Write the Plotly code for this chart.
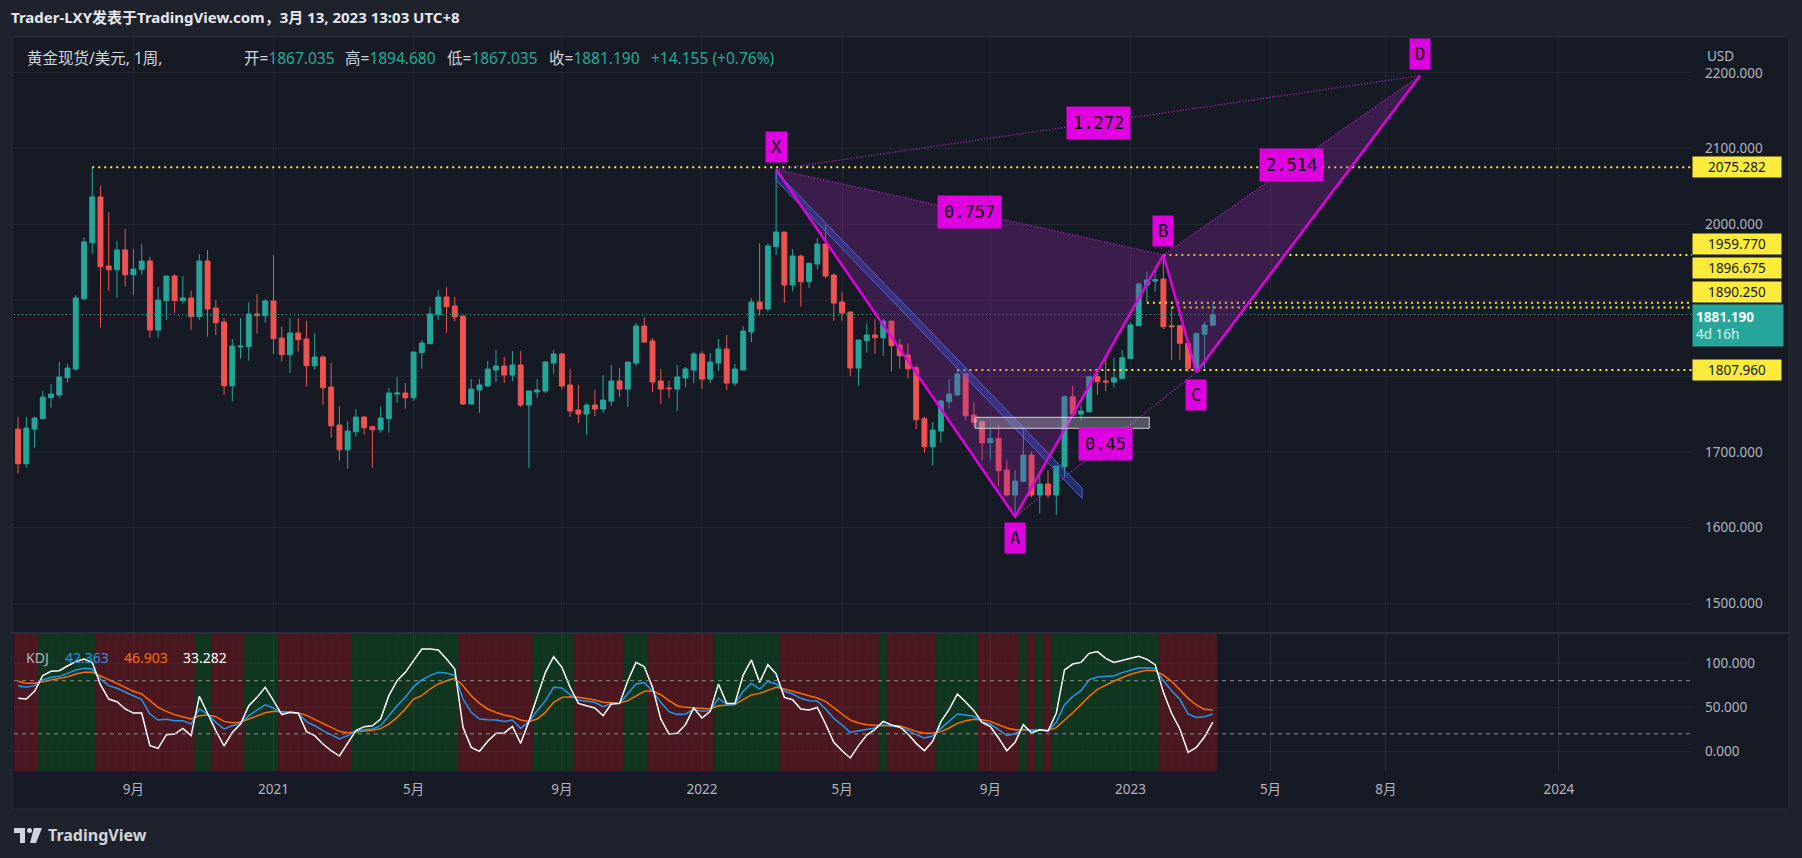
import pandas as pd
import plotly.graph_objects as go

# ---------------- data ----------------
bar_dates = pd.date_range("2020-06-01", periods=146, freq="7D")

opens = [1730.0, 1684.3, 1730.0, 1743.7, 1771.4, 1774.9, 1797.8, 1809.2, 1902.0, 1976.0,
         2036.2, 1945.1, 1940.2, 1966.2, 1933.6, 1940.2, 1951.7, 1860.6, 1899.4, 1931.9,
         1899.4, 1902.9, 1878.2, 1951.7, 1889.7, 1871.2, 1787.2, 1838.2, 1838.6, 1881.8,
         1879.6, 1898.9, 1850.1, 1828.1, 1856.7, 1848.8, 1813.6, 1825.0, 1785.4, 1735.3,
         1702.8, 1726.5, 1745.8, 1733.1, 1729.2, 1743.7, 1776.2, 1777.5, 1771.4, 1830.7,
         1842.6, 1880.9, 1904.2, 1892.3, 1879.1, 1763.0, 1781.5, 1786.8, 1807.9, 1813.2,
         1801.3, 1814.5, 1761.7, 1778.9, 1780.2, 1817.1, 1829.0, 1788.1, 1755.1, 1749.8,
         1761.7, 1756.4, 1767.0, 1793.4, 1782.8, 1817.1, 1865.9, 1846.2, 1793.4, 1784.1,
         1782.8, 1797.4, 1807.9, 1829.0, 1796.0, 1817.1, 1835.6, 1790.7, 1807.9, 1858.0,
         1897.6, 1888.4, 1970.6, 1989.9, 1920.0, 1958.3, 1924.4, 1947.7, 1974.1, 1933.2,
         1897.6, 1884.4, 1810.5, 1846.6, 1854.1, 1850.5, 1872.5, 1840.9, 1827.7, 1811.0,
         1743.7, 1706.7, 1727.4, 1766.1, 1774.9, 1802.6, 1748.5, 1739.7, 1712.0, 1717.7,
         1675.9, 1643.0, 1661.0, 1695.7, 1643.0, 1657.5, 1643.0, 1680.3, 1772.7, 1749.8,
         1753.0, 1799.1, 1793.5, 1792.0, 1796.9, 1823.2, 1866.4, 1920.0, 1925.3, 1927.9,
         1866.3, 1866.3, 1843.1, 1810.1, 1855.0, 1867.035]
highs = [1746.3, 1746.3, 1746.3, 1780.2, 1789.4, 1818.4, 1815.8, 1906.8, 1982.9, 2075.3,
         2050.6, 2016.3, 1978.1, 1993.9, 1967.5, 1974.1, 1957.0, 1917.8, 1931.9, 1934.5,
         1931.9, 1912.1, 1960.9, 1966.2, 1900.2, 1876.5, 1848.8, 1876.5, 1897.6, 1908.2,
         1901.6, 1959.6, 1865.1, 1876.5, 1876.5, 1872.5, 1856.7, 1827.6, 1817.1, 1760.4,
         1740.6, 1756.4, 1747.2, 1734.4, 1759.1, 1784.1, 1798.6, 1790.7, 1831.6, 1847.5,
         1891.0, 1913.4, 1917.4, 1904.2, 1879.1, 1796.0, 1796.0, 1819.8, 1834.3, 1825.0,
         1832.9, 1832.9, 1780.2, 1796.0, 1819.8, 1834.3, 1830.3, 1809.2, 1788.1, 1764.3,
         1781.5, 1801.3, 1814.5, 1810.5, 1818.4, 1869.9, 1877.8, 1850.1, 1809.2, 1793.4,
         1814.5, 1811.9, 1831.6, 1832.9, 1830.3, 1848.8, 1854.1, 1815.8, 1865.9, 1902.9,
         1975.0, 1975.0, 2072.6, 1990.5, 1967.5, 1960.0, 1949.5, 1982.0, 1999.2, 1935.4,
         1910.8, 1884.4, 1847.5, 1869.5, 1875.2, 1875.2, 1872.5, 1848.8, 1842.6, 1814.5,
         1746.3, 1739.4, 1768.3, 1796.0, 1809.2, 1802.6, 1765.7, 1739.7, 1730.9, 1735.3,
         1689.1, 1675.9, 1730.9, 1700.1, 1669.4, 1676.0, 1681.2, 1774.0, 1786.8, 1761.3,
         1800.5, 1810.0, 1824.1, 1824.0, 1834.3, 1870.8, 1923.1, 1937.6, 1938.9, 1959.8,
         1890.5, 1866.3, 1847.5, 1856.3, 1871.6, 1894.680]
lows = [1671.5, 1679.0, 1705.4, 1743.7, 1758.2, 1771.4, 1791.2, 1807.0, 1900.2, 1961.4,
        1863.7, 1912.5, 1903.3, 1917.8, 1906.8, 1933.6, 1850.5, 1850.5, 1873.9, 1883.1,
        1895.4, 1860.6, 1873.9, 1851.9, 1854.1, 1774.9, 1766.1, 1822.8, 1820.2, 1855.8,
        1870.3, 1829.0, 1818.9, 1804.4, 1832.1, 1785.9, 1808.3, 1762.1, 1718.6, 1688.3,
        1677.7, 1720.0, 1722.6, 1679.0, 1725.2, 1725.2, 1764.8, 1756.8, 1767.4, 1809.6,
        1842.6, 1873.9, 1857.1, 1871.7, 1761.7, 1763.0, 1751.2, 1785.5, 1792.1, 1790.7,
        1793.4, 1759.1, 1678.6, 1771.0, 1777.5, 1802.6, 1782.8, 1745.9, 1737.9, 1722.1,
        1747.2, 1751.2, 1760.4, 1772.3, 1759.1, 1813.2, 1843.5, 1778.9, 1763.0, 1771.0,
        1753.8, 1785.5, 1790.7, 1782.8, 1790.7, 1806.6, 1781.5, 1786.8, 1807.9, 1844.8,
        1879.6, 1885.0, 1959.6, 1896.7, 1911.7, 1891.4, 1916.1, 1940.7, 1928.8, 1873.0,
        1873.0, 1799.9, 1786.8, 1830.8, 1829.0, 1826.4, 1805.7, 1809.6, 1796.9, 1730.0,
        1698.8, 1681.7, 1712.0, 1757.3, 1773.6, 1741.9, 1733.1, 1689.1, 1689.1, 1654.9,
        1640.8, 1614.4, 1660.5, 1640.0, 1618.8, 1638.6, 1616.5, 1667.1, 1748.5, 1741.9,
        1752.0, 1775.0, 1780.0, 1785.0, 1796.9, 1823.2, 1866.0, 1898.0, 1911.0, 1862.0,
        1821.1, 1821.1, 1806.0, 1805.0, 1810.0, 1867.035]
closes = [1684.3, 1731.3, 1744.5, 1772.2, 1776.2, 1798.6, 1810.5, 1902.9, 1976.8, 2036.2,
          1944.2, 1940.2, 1966.2, 1933.6, 1941.1, 1951.7, 1860.6, 1900.2, 1931.9, 1899.4,
          1902.9, 1878.2, 1951.7, 1888.4, 1870.3, 1787.2, 1839.5, 1839.5, 1881.8, 1879.6,
          1898.9, 1849.2, 1828.1, 1856.7, 1847.9, 1813.6, 1825.0, 1784.6, 1734.4, 1702.8,
          1727.4, 1745.8, 1731.8, 1729.2, 1744.5, 1777.5, 1777.5, 1771.4, 1831.6, 1843.5,
          1881.8, 1904.2, 1891.4, 1877.8, 1763.0, 1782.8, 1788.1, 1809.2, 1813.2, 1801.3,
          1814.5, 1761.7, 1780.2, 1781.5, 1818.4, 1829.0, 1786.8, 1753.8, 1749.8, 1761.7,
          1756.4, 1768.3, 1793.4, 1782.8, 1818.4, 1865.9, 1844.8, 1792.1, 1782.8, 1783.3,
          1798.7, 1809.2, 1829.0, 1796.0, 1818.4, 1835.6, 1790.7, 1809.2, 1859.3, 1897.6,
          1888.4, 1971.5, 1989.9, 1920.0, 1958.3, 1924.4, 1948.6, 1974.1, 1931.9, 1896.3,
          1883.1, 1810.5, 1847.5, 1854.1, 1850.5, 1872.5, 1840.0, 1826.8, 1809.6, 1742.4,
          1706.7, 1728.7, 1767.0, 1776.2, 1802.6, 1747.6, 1738.8, 1712.0, 1717.7, 1675.0,
          1643.0, 1661.4, 1695.7, 1643.0, 1657.5, 1643.0, 1681.2, 1772.7, 1749.8, 1753.8,
          1799.1, 1792.5, 1792.0, 1797.5, 1824.1, 1867.3, 1921.3, 1926.6, 1927.1, 1865.0,
          1865.0, 1843.1, 1810.1, 1856.3, 1867.3, 1881.190]

k_vals = [74.4, 72.5, 74.4, 80.8, 83.8, 84.9, 88.3, 92.1, 93.9, 93.2,
          81.9, 74.4, 71.4, 66.9, 62.4, 58.6, 42.4, 35.6, 36.4, 34.9,
          34.9, 31.1, 48.1, 42.4, 33.0, 25.5, 29.2, 31.9, 40.5, 46.9,
          52.9, 49.2, 43.2, 44.3, 43.2, 33.8, 29.2, 23.6, 18.7, 14.2,
          18.0, 23.6, 24.7, 25.5, 29.2, 40.5, 51.8, 61.2, 73.3, 80.8,
          85.7, 89.4, 88.7, 85.7, 59.3, 44.3, 36.8, 36.0, 35.6, 34.1,
          35.6, 26.2, 33.8, 46.2, 57.5, 72.5, 71.8, 64.2, 58.2, 56.7,
          55.6, 50.7, 54.4, 54.4, 65.0, 76.3, 77.8, 68.4, 55.6, 45.1,
          42.0, 42.4, 47.7, 45.4, 46.2, 60.1, 53.7, 53.7, 68.0, 77.0,
          70.6, 79.3, 76.3, 68.0, 65.0, 60.1, 57.5, 57.0, 48.1, 37.5,
          30.0, 21.7, 23.6, 25.5, 26.6, 30.4, 29.0, 27.4, 24.0, 19.1,
          15.3, 17.6, 26.2, 34.1, 42.4, 41.3, 39.8, 33.4, 31.1, 24.7,
          18.3, 20.2, 25.1, 23.6, 24.8, 23.2, 33.0, 53.0, 62.0, 68.7,
          81.2, 84.2, 84.9, 85.7, 89.1, 92.1, 94.3, 94.7, 93.6, 80.0,
          68.7, 59.0, 42.4, 38.6, 39.4, 42.363]
d_vals = [79.3, 77.0, 77.0, 78.9, 80.8, 82.3, 84.5, 87.6, 89.4, 89.4,
          85.7, 81.2, 77.0, 72.5, 68.0, 65.0, 57.5, 49.9, 45.4, 41.7,
          39.4, 36.8, 40.5, 41.3, 39.4, 34.1, 32.6, 33.0, 36.8, 40.5,
          43.9, 45.4, 44.7, 44.7, 43.9, 40.9, 36.4, 31.9, 27.4, 22.8,
          21.3, 22.1, 23.2, 24.0, 25.9, 31.1, 38.6, 48.1, 59.3, 63.1,
          70.6, 76.3, 80.0, 82.7, 74.4, 63.1, 54.4, 48.1, 44.3, 41.3,
          39.4, 35.6, 34.1, 36.8, 44.3, 55.6, 61.2, 62.0, 61.2, 60.1,
          58.2, 55.6, 54.8, 54.8, 57.5, 63.1, 68.0, 68.7, 64.2, 57.5,
          51.8, 49.9, 49.2, 48.1, 48.1, 51.8, 52.6, 53.0, 58.6, 63.9,
          65.7, 69.5, 72.5, 70.6, 68.0, 65.0, 62.4, 60.5, 56.7, 49.2,
          42.4, 35.6, 32.3, 30.4, 29.6, 29.2, 29.2, 28.9, 26.2, 22.8,
          20.6, 20.6, 22.5, 26.6, 31.9, 34.9, 36.4, 36.0, 34.1, 30.4,
          26.6, 24.7, 24.7, 24.4, 24.4, 24.0, 27.0, 34.9, 43.9, 53.0,
          62.4, 70.2, 75.1, 79.7, 83.4, 87.2, 89.8, 91.7, 91.3, 86.4,
          79.3, 69.9, 60.1, 52.6, 47.7, 46.903]
j_vals = [60.1, 59.3, 68.0, 85.7, 90.6, 91.3, 96.6, 101.5, 104.5, 100.7,
          75.5, 59.3, 56.3, 48.1, 43.5, 43.5, 6.7, 3.7, 19.1, 19.8,
          26.2, 18.0, 62.4, 42.4, 23.6, 6.3, 21.7, 31.1, 51.8, 61.2,
          72.5, 57.5, 41.7, 44.3, 43.2, 22.5, 18.0, 8.6, 1.0, -5.0,
          8.6, 23.6, 28.1, 29.2, 36.8, 63.1, 80.0, 89.4, 102.6, 115.8,
          115.8, 114.6, 104.5, 93.2, 27.4, 4.8, 0.3, 11.6, 20.6, 21.0,
          28.5, 9.3, 34.1, 61.2, 89.4, 107.1, 95.1, 72.5, 54.4, 51.8,
          49.2, 40.5, 53.7, 54.4, 80.0, 100.7, 95.8, 72.5, 36.8, 19.8,
          20.6, 30.4, 49.2, 37.9, 45.4, 76.3, 54.4, 54.4, 86.4, 103.4,
          78.1, 98.1, 87.6, 61.2, 58.6, 48.1, 46.9, 49.8, 31.1, 10.4,
          1.0, -7.2, 6.7, 18.7, 25.1, 34.1, 30.0, 27.7, 19.8, 9.3,
          1.0, 11.6, 33.8, 47.7, 65.0, 56.0, 46.2, 33.0, 28.1, 15.3,
          1.0, 10.4, 30.4, 21.0, 24.7, 23.2, 43.2, 92.1, 98.8, 100.7,
          110.9, 112.8, 105.2, 100.7, 103.0, 105.6, 107.5, 104.1, 98.1, 66.9,
          43.2, 25.5, -0.9, 4.8, 16.8, 33.282]

# harmonic pattern points
pattern_labels = ["X", "A", "B", "C", "D"]
pattern_dates = ["2022-03-07", "2022-09-26", "2023-01-30", "2023-02-27", "2023-09-05"]
pattern_prices = [2072.6, 1614.4, 1959.77, 1805.0, 2196.2]
ratio_texts = ["0.757", "0.45", "1.272", "2.514"]
ratio_pairs = [(0, 2), (1, 3), (0, 4), (2, 4)]

# blue channel drawn from X
channel_dates = ["2022-03-07", "2022-11-22"]
channel_top = [2069.5, 1651.8]
channel_bot = [2058.6, 1638.6]

# gray box
box_dates = ["2022-08-23", "2023-01-18"]
box_prices = [1731.0, 1745.5]

# yellow horizontal levels
level_prices = [2075.282, 1959.770, 1896.675, 1890.250, 1807.960]
level_start = ["2020-08-03", "2023-01-30", "2023-01-16", "2023-02-06", "2022-08-08"]
level_label_shift = [0, 11, 35, 16, 0]

last_price = 1881.190

tick_dates = ["2020-09-07", "2021-01-04", "2021-05-03", "2021-09-06", "2022-01-03",
              "2022-05-02", "2022-09-05", "2023-01-02", "2023-05-01", "2023-08-07", "2024-01-01"]
tick_text = ["9月", "2021", "5月", "9月", "2022", "5月", "9月", "2023", "5月", "8月", "2024"]

price_ticks = [1500, 1600, 1700, 1800, 1900, 2000, 2100, 2200]
price_tick_text = ["1500.000", "1600.000", "1700.000", "", "", "2000.000", "2100.000", "2200.000"]
kdj_ticks = [0, 50, 100]

# ---------------- styling / geometry ----------------
W, H = 1802, 858
ML, MR, MT, MB = 14, 110, 37, 87
PW, PH = W - ML - MR, H - MT - MB

def X(p):
    return (p - ML) / PW

def Y(p):
    return (H - MB - p) / PH

BG = "#161a25"
OUTER = "#1e222d"
GRID = "#232733"
UP, DN = "#26a69a", "#ef5350"
MAG = "#df00df"
TXT = "#b2b5be"
FONT = "Noto Sans, Noto Sans CJK SC, sans-serif"

PRICE_RANGE = [1462.3, 2247.2]
KDJ_RANGE = [-21.9, 132.7]
anchor = pd.Timestamp("2021-01-04")
ppd = 1.1771
x_left = anchor - pd.Timedelta(days=(273.5 - ML) / ppd)
x_right = anchor + pd.Timedelta(days=(W - MR - 273.5) / ppd)

fig = go.Figure()

# KDJ background bands
band_cols = ["#11361f" if k > d else "#4b1820" for k, d in zip(k_vals, d_vals)]
fig.add_trace(go.Bar(x=bar_dates, y=[KDJ_RANGE[1] - KDJ_RANGE[0]] * len(bar_dates),
                     base=KDJ_RANGE[0], width=7.25 * 86400000,
                     marker=dict(color=band_cols, line=dict(color=band_cols, width=0.6)),
                     xaxis="x", yaxis="y2", hoverinfo="skip"))

# candles
fig.add_trace(go.Candlestick(x=bar_dates, open=opens, high=highs, low=lows, close=closes,
                             increasing=dict(line=dict(color=UP, width=1), fillcolor=UP),
                             decreasing=dict(line=dict(color=DN, width=1), fillcolor=DN),
                             whiskerwidth=0, hoverinfo="skip", xaxis="x", yaxis="y"))

# current price dotted line
fig.add_trace(go.Scatter(x=[x_left, x_right], y=[last_price, last_price], mode="lines",
                         line=dict(color=UP, width=1, dash="1px,3px"), hoverinfo="skip"))

# yellow levels
for p, s in zip(level_prices, level_start):
    fig.add_trace(go.Scatter(x=[s, x_right], y=[p, p], mode="lines",
                             line=dict(color="#ffeb3b", width=2, dash="2px,4px"), hoverinfo="skip"))

# pattern fills
pd_ = pattern_dates
pp = pattern_prices
fig.add_trace(go.Scatter(x=[pd_[0], pd_[1], pd_[2], pd_[0]], y=[pp[0], pp[1], pp[2], pp[0]],
                         fill="toself", fillcolor="rgba(156,39,176,0.28)", mode="lines",
                         line=dict(width=0), hoverinfo="skip"))
fig.add_trace(go.Scatter(x=[pd_[2], pd_[3], pd_[4], pd_[2]], y=[pp[2], pp[3], pp[4], pp[2]],
                         fill="toself", fillcolor="rgba(156,39,176,0.28)", mode="lines",
                         line=dict(width=0), hoverinfo="skip"))

# blue channel
fig.add_trace(go.Scatter(x=[channel_dates[0], channel_dates[1], channel_dates[1], channel_dates[0], channel_dates[0]],
                         y=[channel_top[0], channel_top[1], channel_bot[1], channel_bot[0], channel_top[0]],
                         fill="toself", fillcolor="rgba(70,90,220,0.35)", mode="lines",
                         line=dict(color="rgba(80,110,235,0.85)", width=1), hoverinfo="skip"))

# dotted ratio lines
for a, b in ratio_pairs:
    fig.add_trace(go.Scatter(x=[pd_[a], pd_[b]], y=[pp[a], pp[b]], mode="lines",
                             line=dict(color="rgba(185,40,200,0.95)", width=1.5, dash="1px,2px"),
                             hoverinfo="skip"))

# solid pattern legs
fig.add_trace(go.Scatter(x=pd_, y=pp, mode="lines", line=dict(color=MAG, width=2.5),
                         hoverinfo="skip"))

# KDJ lines
fig.add_trace(go.Scatter(x=bar_dates, y=d_vals, mode="lines", line=dict(color="#ff6d00", width=1.5),
                         xaxis="x", yaxis="y2", hoverinfo="skip"))
fig.add_trace(go.Scatter(x=bar_dates, y=k_vals, mode="lines", line=dict(color="#2196f3", width=1.5),
                         xaxis="x", yaxis="y2", hoverinfo="skip"))
fig.add_trace(go.Scatter(x=bar_dates, y=j_vals, mode="lines", line=dict(color="#ffffff", width=1.5),
                         xaxis="x", yaxis="y2", hoverinfo="skip"))

shapes = []
# frame
shapes.append(dict(type="rect", xref="paper", yref="paper", x0=X(12), x1=X(1789), y0=Y(809), y1=Y(37),
                   fillcolor=BG, line=dict(color="#2a2e39", width=1), layer="below"))
# gray box
shapes.append(dict(type="rect", xref="x", yref="y", x0=box_dates[0], x1=box_dates[1],
                   y0=box_prices[0], y1=box_prices[1], fillcolor="rgba(190,195,205,0.35)",
                   line=dict(color="rgba(225,225,230,0.9)", width=1), layer="above"))
# KDJ grid over the bands
for v in kdj_ticks:
    shapes.append(dict(type="line", xref="paper", yref="y2", x0=0, x1=1, y0=v, y1=v,
                       line=dict(color="rgba(255,255,255,0.06)", width=1), layer="above"))
for v in [20, 80]:
    shapes.append(dict(type="line", xref="paper", yref="y2", x0=0, x1=1, y0=v, y1=v,
                       line=dict(color="#8a8d96", width=1, dash="4px,4px"), layer="above"))
for t in tick_dates:
    shapes.append(dict(type="line", xref="x", yref="y2", x0=t, x1=t, y0=KDJ_RANGE[0], y1=KDJ_RANGE[1],
                       line=dict(color="rgba(255,255,255,0.05)", width=1), layer="above"))
# pane separator
shapes.append(dict(type="line", xref="paper", yref="paper", x0=X(12), x1=X(1789), y0=Y(633), y1=Y(633),
                   line=dict(color="#2a2e39", width=2), layer="above"))
# TradingView logo
def path(pts):
    return "M " + " L ".join(f"{X(a)},{Y(b)}" for a, b in pts) + " Z"
shapes.append(dict(type="path", xref="paper", yref="paper",
                   path=path([(14, 828), (25, 828), (25, 843), (20, 843), (20, 833), (14, 833)]),
                   fillcolor="#d1d4dc", line=dict(width=0)))
shapes.append(dict(type="circle", xref="paper", yref="paper", x0=X(27), x1=X(32), y0=Y(833), y1=Y(828),
                   fillcolor="#d1d4dc", line=dict(width=0)))
shapes.append(dict(type="path", xref="paper", yref="paper",
                   path=path([(34, 828), (42, 828), (36, 843), (30, 843)]),
                   fillcolor="#d1d4dc", line=dict(width=0)))

ann = []
def text(xp, yp, t, size=14, color="#d1d4dc", anchor="left", **kw):
    ann.append(dict(xref="paper", yref="paper", x=X(xp), y=Y(yp), text=t, showarrow=False,
                    xanchor=anchor, yanchor="middle", font=dict(family=FONT, size=size, color=color), **kw))

text(9, 17, "<b>Trader-LXY发表于TradingView.com，3月 13, 2023 13:03 UTC+8</b>", size=15, color="#e6e8ee")
HS = 15.5
text(25, 58, "黄金现货/美元, 1周,", size=HS)
teal = "#22ab94"
text(242, 58, f'开=<span style="color:{teal}">1867.035</span>', size=HS)
text(343, 58, f'高=<span style="color:{teal}">1894.680</span>', size=HS)
text(445, 58, f'低=<span style="color:{teal}">1867.035</span>', size=HS)
text(547, 58, f'收=<span style="color:{teal}">1881.190</span>', size=HS)
text(649, 58, "+14.155 (+0.76%)", size=HS, color=teal)

# KDJ legend
text(24, 657, "KDJ", size=14, color=TXT)
text(63, 657, "42.363", size=14, color="#2196f3")
text(122, 657, "46.903", size=14, color="#ff6d00")
text(181, 657, "33.282", size=14, color="#ffffff")

# USD label
text(1705, 56, "USD", size=13.5, color=TXT)

# TradingView wordmark
text(46, 835, "<b>TradingView</b>", size=16, color="#d1d4dc")

# axis price labels
for p, sh in zip(level_prices, level_label_shift):
    ann.append(dict(xref="paper", yref="y", x=1, y=p, yshift=sh, text=f"{p:.3f}", showarrow=False,
                    xanchor="left", yanchor="middle", align="center", width=84, height=16, borderpad=2,
                    bgcolor="#ffeb3b", font=dict(family=FONT, size=13.5, color="#131722")))
ann.append(dict(xref="paper", yref="y", x=1, y=last_price, yshift=-11,
                text=f"<b>{last_price:.3f}</b><br><span style='color:#d9f2ef'>4d 16h</span>",
                showarrow=False, xanchor="left", yanchor="middle", align="left", width=84, height=35,
                borderpad=3, bgcolor=UP, font=dict(family=FONT, size=13.5, color="#ffffff")))

# pattern letters
letter_shift = [22, -21, 24, -23, 22]
for lab, d, p, sh in zip(pattern_labels, pattern_dates, pattern_prices, letter_shift):
    ann.append(dict(xref="x", yref="y", x=d, y=p, yshift=sh, text=lab, showarrow=False,
                    bgcolor=MAG, borderpad=5, font=dict(family="DejaVu Sans Mono", size=17, color="#000000")))
# ratio labels on the dotted lines
for txt, (a, b) in zip(ratio_texts, ratio_pairs):
    da, db = pd.Timestamp(pattern_dates[a]), pd.Timestamp(pattern_dates[b])
    mid_d = da + (db - da) / 2
    mid_p = (pattern_prices[a] + pattern_prices[b]) / 2
    ann.append(dict(xref="x", yref="y", x=mid_d, y=mid_p, text=txt, showarrow=False,
                    bgcolor=MAG, borderpad=6, font=dict(family="DejaVu Sans Mono", size=17, color="#000000")))

fig.update_layout(
    width=W, height=H, margin=dict(l=ML, r=MR, t=MT, b=MB),
    paper_bgcolor=OUTER, plot_bgcolor=BG, showlegend=False, boxgap=0.15,
    font=dict(family=FONT, color=TXT),
    xaxis=dict(type="date", range=[x_left, x_right], anchor="y2", tickmode="array",
               tickvals=tick_dates, ticktext=tick_text, showgrid=True, gridcolor=GRID, gridwidth=1,
               zeroline=False, showline=False, ticks="", ticklabelstandoff=8,
               tickfont=dict(family=FONT, size=13.5, color=TXT), rangeslider=dict(visible=False),
               fixedrange=True),
    yaxis=dict(domain=[(H - MB - 632) / PH, 1], range=PRICE_RANGE, side="right", tickmode="array",
               tickvals=price_ticks, ticktext=price_tick_text, showgrid=True,
               gridcolor=GRID, zeroline=False, showline=False, ticks="", ticklabelstandoff=12,
               tickfont=dict(family=FONT, size=13.5, color=TXT), fixedrange=True),
    yaxis2=dict(domain=[0, (H - MB - 634) / PH], range=KDJ_RANGE, side="right", tickmode="array",
                tickvals=kdj_ticks, ticktext=[f"{v:.3f}" for v in kdj_ticks], showgrid=False,
                zeroline=False, showline=False, ticks="", ticklabelstandoff=12,
                tickfont=dict(family=FONT, size=13.5, color=TXT), fixedrange=True),
    shapes=shapes, annotations=ann,
)

fig.write_html("out.html", config={"displayModeBar": False})
